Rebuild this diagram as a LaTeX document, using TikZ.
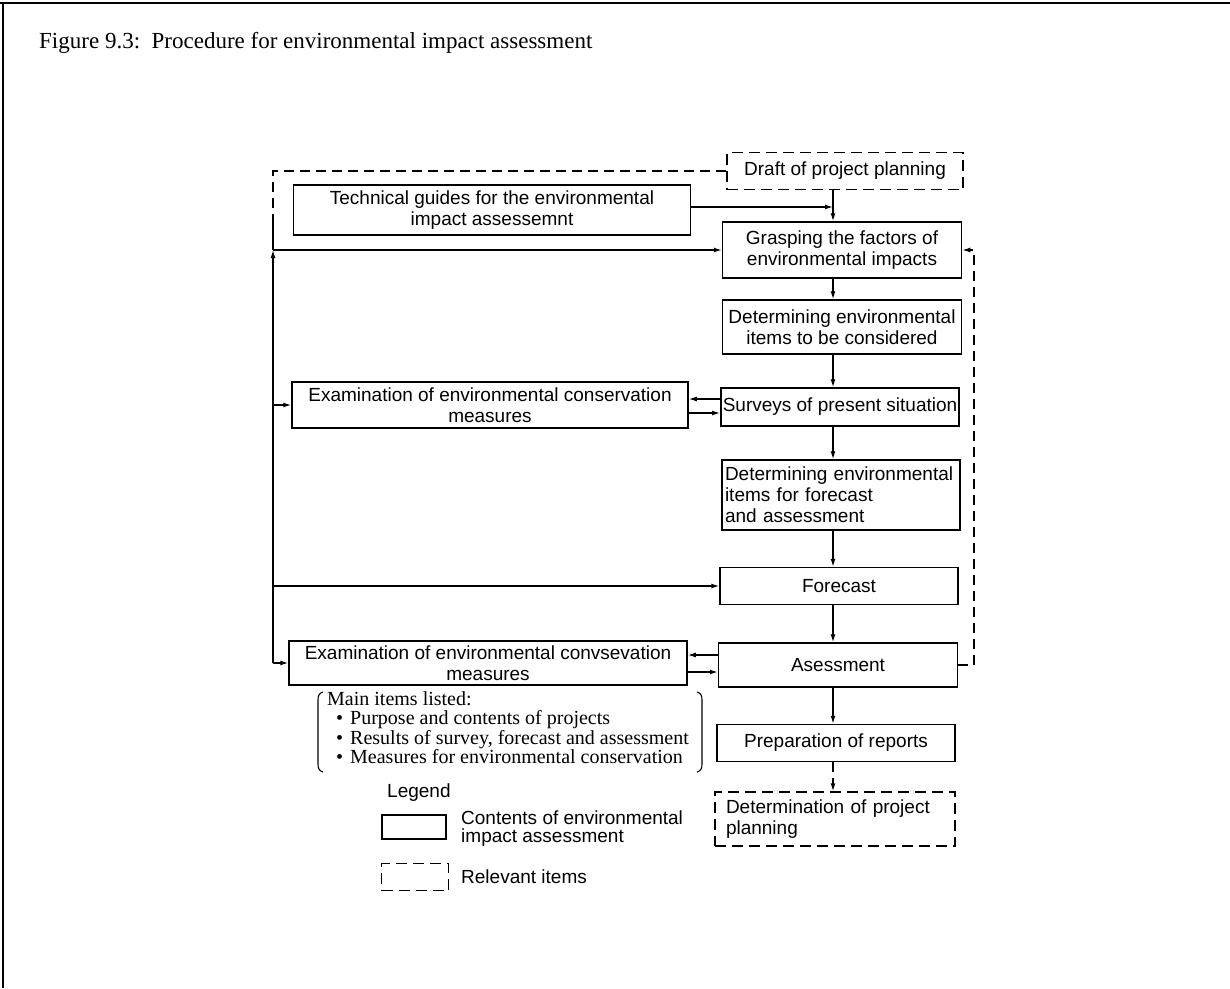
\documentclass[tikz,border=0pt]{standalone}
\usepackage{fontspec}
\setmainfont{Liberation Serif}
\setsansfont{Liberation Sans}
\usetikzlibrary{arrows.meta,calc}
\begin{document}
\begin{tikzpicture}[x=1pt,y=-1pt,
  box/.style={draw,line width=1.5pt,inner xsep=2pt,inner ysep=0pt,
    font=\sffamily\fontsize{19}{21}\selectfont,align=center},
  dbox/.style={box,dash pattern=on 11pt off 6pt},
  conn/.style={line width=1.3pt},
  arr/.style={conn,-{Latex[length=8pt,width=5pt]}},
  dconn/.style={conn,dash pattern=on 10pt off 6pt},
  darr/.style={dconn,-{Latex[length=8pt,width=5pt]}},
]
\useasboundingbox (0,0) rectangle (1230,988);
\draw[line width=2pt] (0,3) -- (1230,3);
\draw[line width=1.2pt] (3,3) -- (3,988);

\node[anchor=west,font=\fontsize{23}{26}\selectfont,inner sep=0pt] (title) at (39,43)
  {Figure 9.3:\ \ Procedure for environmental impact assessment};

% main column
\node[dbox,minimum width=236pt,minimum height=37pt] (draft) at (845,171) {Draft of project planning};
\node[box,minimum width=397pt,minimum height=50pt] (tech) at (492,210)
  {Technical guides for the environmental\\impact assessemnt};
\node[box,minimum width=239pt,minimum height=56pt] (grasp) at (842,250)
  {Grasping the factors of\\environmental impacts};
\node[box,minimum width=239pt,minimum height=54pt] (detc) at (842,327)
  {Determining environmental\\items to be considered};
\node[box,minimum width=238pt,minimum height=38pt] (survey) at (840,407)
  {Surveys of present situation};
\node[box,minimum width=396pt,minimum height=46pt] (exam1) at (490,405)
  {Examination of environmental conservation\\measures};
\node[box,inner xsep=3pt,text width=232pt,minimum height=70pt,align=left] (detf) at (841,495)
  {Determining environmental\\items for forecast\\and assessment};
\node[box,minimum width=238pt,minimum height=37pt] (fore) at (839,586) {Forecast};
\node[box,minimum width=239pt,minimum height=44pt] (asses) at (838,665) {Asessment};
\node[box,minimum width=398pt,minimum height=44pt] (exam2) at (488,663)
  {Examination of environmental convsevation\\measures};
\node[box,minimum width=238pt,minimum height=37pt] (prep) at (836,743) {Preparation of reports};
\node[dbox,inner xsep=11pt,text width=218pt,minimum height=54pt,align=left] (determ) at (835,819)
  {Determination of project\\planning};

% main items list
\node[anchor=north west,inner sep=0pt,align=left,font=\fontsize{20}{19.5}\selectfont] (items) at (327,691)
  {Main items listed:\\
   \hspace*{9pt}\textbullet\hspace{7pt}Purpose and contents of projects\\
   \hspace*{9pt}\textbullet\hspace{7pt}Results of survey, forecast and assessment\\
   \hspace*{9pt}\textbullet\hspace{7pt}Measures for environmental conservation};
\draw[line width=1.1pt] (323,692) .. controls (319,693) and (318,696) .. (318,700) -- (318,764)
  .. controls (318,768) and (319,771) .. (323,772);
\draw[line width=1.1pt] (697,692) .. controls (701,693) and (702,696) .. (702,700) -- (702,764)
  .. controls (702,768) and (701,771) .. (697,772);

% legend
\node[anchor=west,inner sep=0pt,font=\sffamily\fontsize{19}{21}\selectfont] (legtitle) at (387,793) {Legend};
\node[draw,line width=1.5pt,minimum width=64pt,minimum height=24pt,inner sep=0pt] (legs) at (414,827) {};
\node[anchor=west,inner sep=0pt,align=left,font=\sffamily\fontsize{19}{18}\selectfont] (legstext) at (461,829)
  {Contents of environmental\\impact assessment};
\node[draw,line width=1.5pt,dash pattern=on 11pt off 6pt,minimum width=67pt,minimum height=27pt,inner sep=0pt] (legd) at (415,877) {};
\node[anchor=west,inner sep=0pt,font=\sffamily\fontsize{19}{21}\selectfont] (legdtext) at (461,877) {Relevant items};

% column connectors
\coordinate (cx) at (833,0);
\coordinate (lx) at (273,0);
\coordinate (rx) at (974,0);
\draw[arr] (draft.south -| cx) -- (grasp.north -| cx);
\draw[arr] (tech.east |- 0,207) -- (cx |- 0,207);
\draw[arr] (grasp.south -| cx) -- (detc.north -| cx);
\draw[arr] (detc.south -| cx) -- (survey.north -| cx);
\draw[arr] (survey.south -| cx) -- (detf.north -| cx);
\draw[arr] (detf.south -| cx) -- (fore.north -| cx);
\draw[arr] (fore.south -| cx) -- (asses.north -| cx);
\draw[arr] (asses.south -| cx) -- (prep.north -| cx);
\draw[darr] (prep.south -| cx) -- (determ.north -| cx);

% double links
\coordinate (s1) at ($(survey.west)+(0,-8)$);
\coordinate (s2) at ($(survey.west)+(0,6)$);
\draw[arr] (s1) -- (s1 -| exam1.east);
\draw[arr] (s2 -| exam1.east) -- (s2);
\coordinate (a1) at ($(asses.west)+(0,-10)$);
\coordinate (a2) at ($(asses.west)+(0,7)$);
\draw[arr] (a1) -- (a1 -| exam2.east);
\draw[arr] (a2 -| exam2.east) -- (a2);

% left feedback column
\coordinate (ltop) at (lx |- draft.west);
\coordinate (lmid) at ($(ltop)+(0,45)$);
\draw[dconn] (draft.west) -- (ltop) -- (lmid);
\draw[conn] (lmid) -- (lx |- grasp.west);
\draw[arr] (lx |- exam2.west) -- (lx |- grasp.west);
\draw[arr] (lx |- grasp.west) -- (grasp.west);
\draw[arr] (lx |- exam1.west) -- (exam1.west);
\draw[arr] (lx |- fore.west) -- (fore.west);
\draw[arr] (lx |- exam2.west) -- (exam2.west);

% right dashed feedback
\draw[darr] (asses.east) -- (asses.east -| rx) -- (rx |- grasp.east) -- (grasp.east);
\end{tikzpicture}
\end{document}
